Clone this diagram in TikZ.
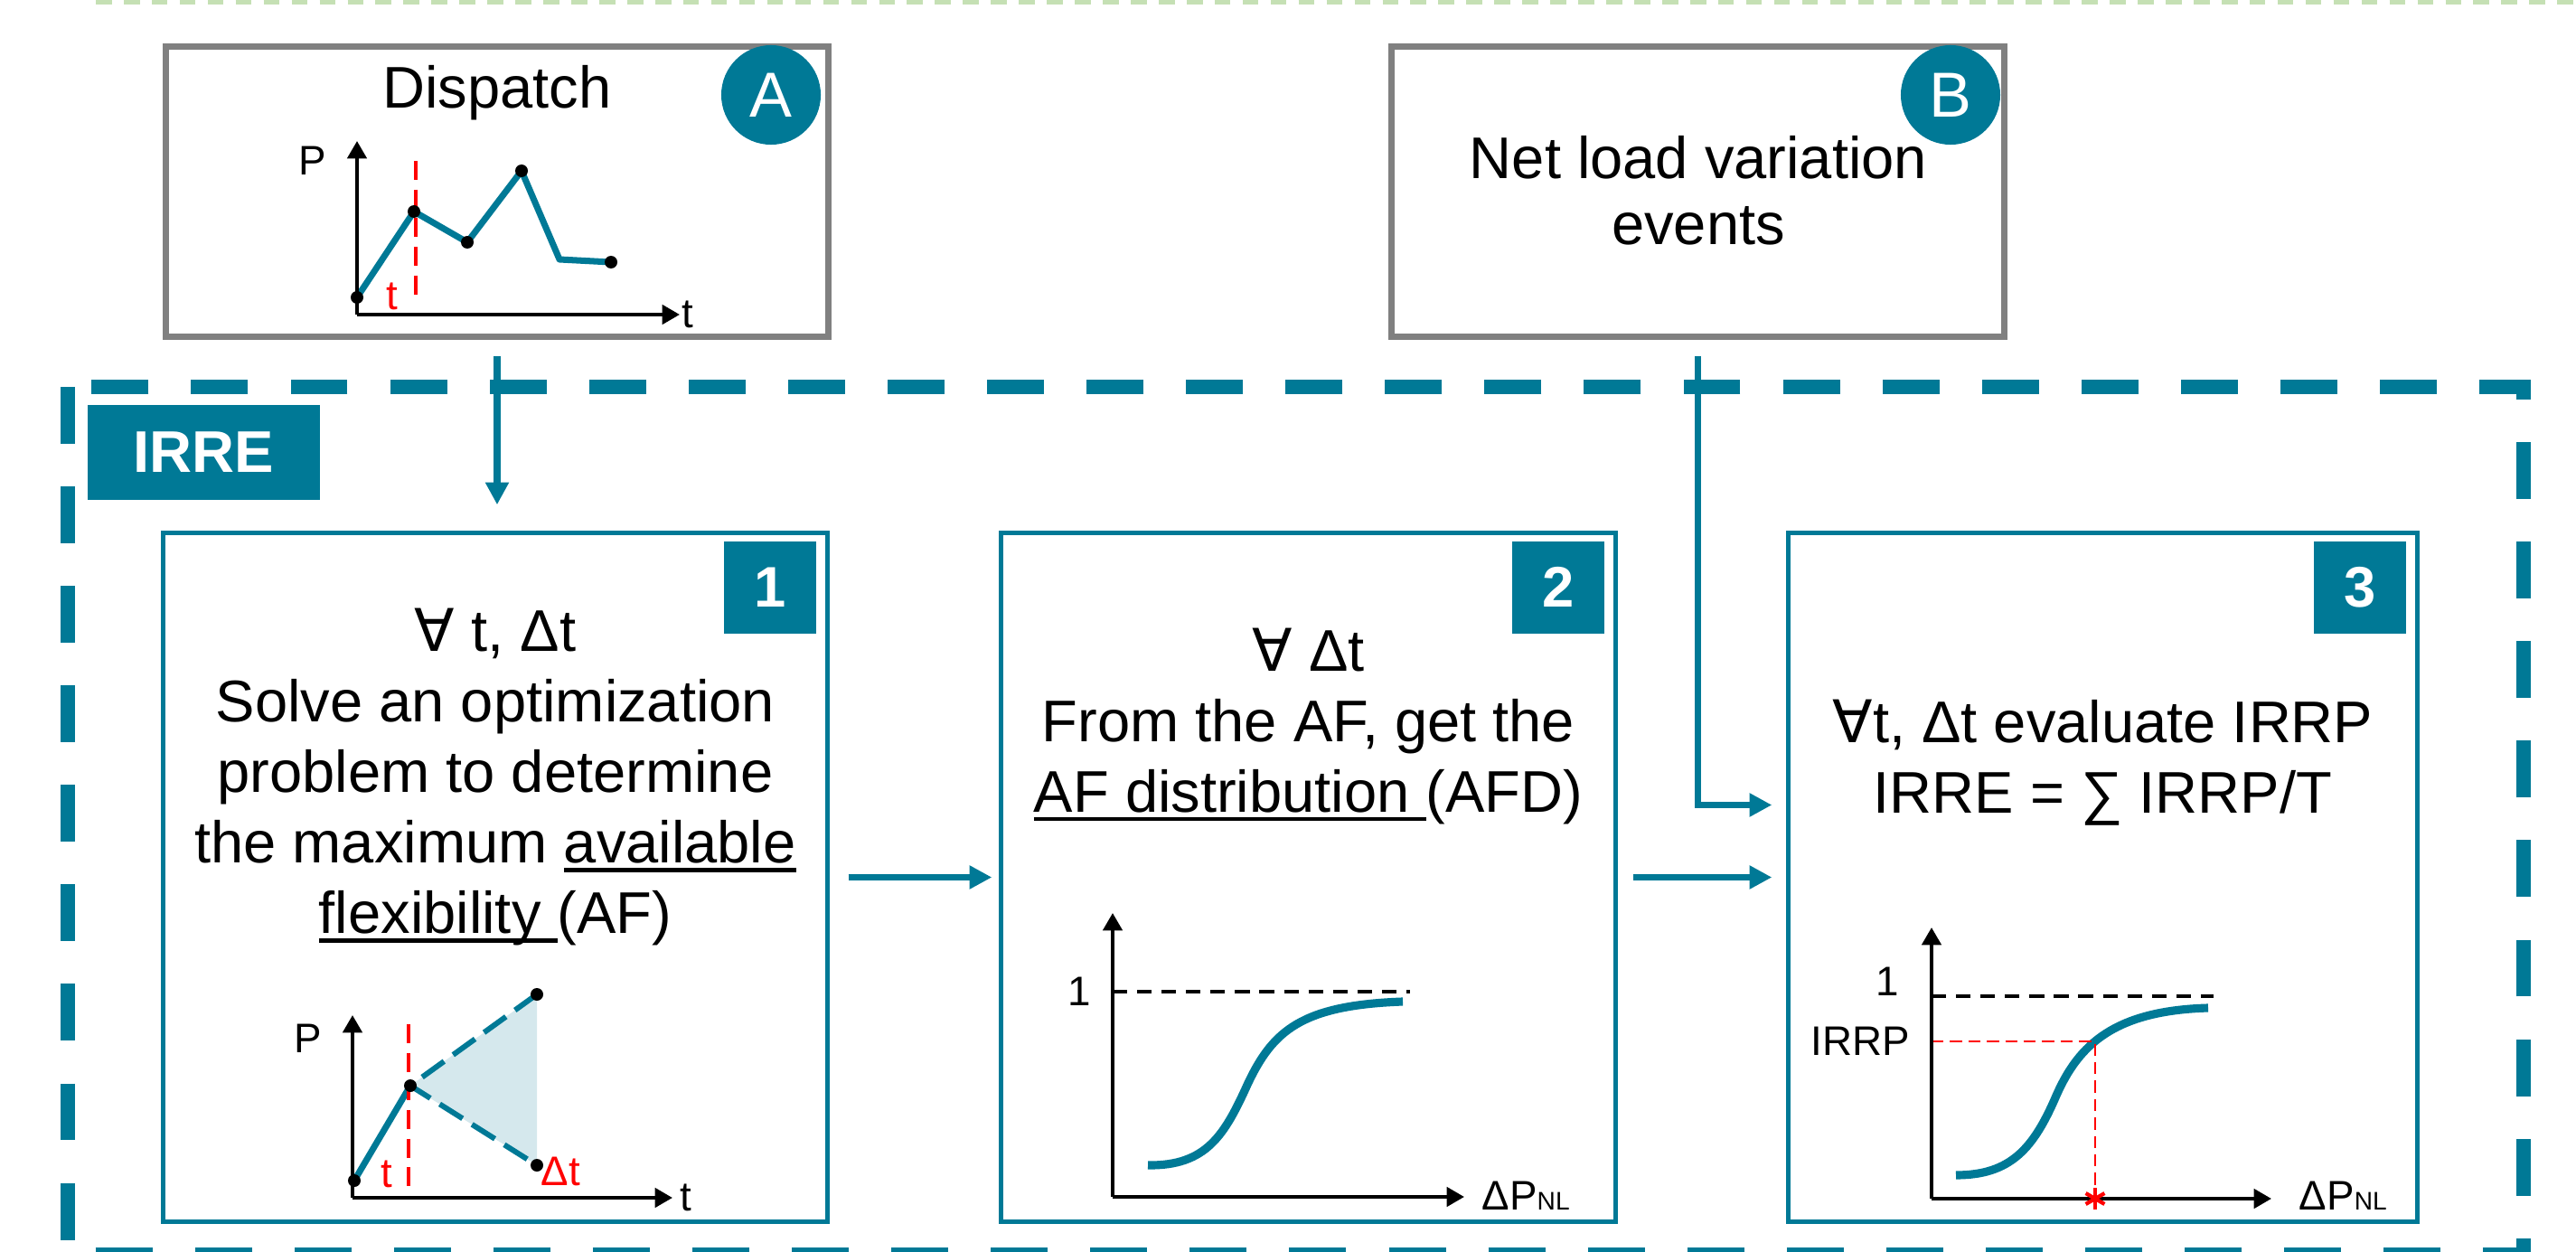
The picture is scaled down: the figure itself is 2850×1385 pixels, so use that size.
\documentclass[tikz,border=0pt]{standalone}
\usepackage{fontspec}
\setmainfont{Liberation Sans}
\newfontfamily\symfont{DejaVu Sans}
\usetikzlibrary{positioning}
\usetikzlibrary{arrows.meta, calc}

\definecolor{irreteal}{RGB}{0,121,150}
\definecolor{boxgray}{RGB}{128,128,128}
\definecolor{flexfill}{RGB}{213,232,237}
\definecolor{sheetgreen}{RGB}{197,224,180}

\newcommand{\bodyfont}{\fontsize{18.5}{22.2}\selectfont}
\newcommand{\chartfont}{\fontsize{13}{15}\selectfont}
\newcommand{\undl}[1]{\setbox0=\hbox{#1}\leavevmode\rlap{\vrule width\wd0 height -1.7pt depth 2.9pt}\box0}

\tikzstyle{inputbox} = [rectangle, draw=boxgray, line width=2pt, minimum height=3.21cm]
\tikzstyle{stagebox} = [rectangle, draw=irreteal, line width=1.4pt, minimum height=7.62cm]
\tikzstyle{badge} = [rectangle, fill=irreteal, text=white, font=\bfseries\fontsize{18}{20}\selectfont, minimum size=1.02cm, inner sep=0pt]
\tikzstyle{letter} = [circle, fill=irreteal, text=white, font=\fontsize{20}{22}\selectfont, minimum size=1.1cm, inner sep=0pt]
\tikzstyle{tag} = [rectangle, fill=irreteal, text=white, font=\bfseries\bodyfont, minimum width=2.57cm, minimum height=1.05cm, inner sep=0pt]
\tikzstyle{bodytext} = [align=center, inner sep=0pt, font=\bodyfont]
\tikzstyle{lbl} = [inner sep=0pt, font=\chartfont]
\tikzstyle{line} = [draw=irreteal, line width=2pt, -{Triangle[length=7pt,width=7pt]}]
\tikzstyle{chartaxis} = [draw, line width=1.2pt, -{Triangle[length=5.5pt,width=6pt]}]
\tikzstyle{trace} = [draw=irreteal, line width=2pt, line join=round]
\tikzstyle{sigmoid} = [draw=irreteal, line width=2.6pt]
\tikzstyle{guide} = [draw=red, line width=0.9pt, dash pattern=on 6pt off 3pt]
\tikzstyle{unitline} = [draw, line width=1pt, dash pattern=on 4.6pt off 3.1pt]
\tikzstyle{dot} = [fill=black]

\begin{document}
\begin{tikzpicture}[x=0.01cm, y=-0.01cm]
  \useasboundingbox (0,0) rectangle (2850,1385);

  % page edge and IRRE frame
  \draw [sheetgreen, line width=1.4pt, dash pattern=on 5pt off 3.8pt] (106,2.5) -- (2850,2.5);
  \draw [irreteal, line width=4.5pt, dash pattern=on 17.9pt off 13.4pt] (75,428) rectangle (2792,1388);
  \node [tag] (irre_tag) at (225.5,500.5) {IRRE};

  % inputs
  \node [inputbox, minimum width=7.33cm] (dispatch) at (550,212) {};
  \node [bodytext, anchor=base] (dispatch_title) at (550,120) {Dispatch};
  \node [letter] (tag_a) at (853,105) {A};
  \node [inputbox, minimum width=6.78cm] (net_load) at (1878.5,212) {};
  \node [bodytext, anchor=north, font=\fontsize{18.5}{20.8}\selectfont] (net_load_text) at (1879,150) {Net load variation\\events};
  \node [letter] (tag_b) at (2158,105) {B};

  % steps
  \node [stagebox, minimum width=7.35cm] (step_one) at (548,970.5) {};
  \node [stagebox, minimum width=6.8cm] (step_two) at (1447.5,970.5) {};
  \node [stagebox, minimum width=6.96cm] (step_three) at (2326.5,970.5) {};
  \node [badge, anchor=north east] (num_one) at ($(step_one.north east)+(-14,11)$) {1};
  \node [badge, anchor=north east] (num_two) at ($(step_two.north east)+(-14,11)$) {2};
  \node [badge, anchor=north east] (num_three) at ($(step_three.north east)+(-14,11)$) {3};

  \node [bodytext, anchor=north] (step_one_text) at (548,672) {{\symfont ∀} t, Δt\\Solve an optimization\\problem to determine\\the maximum \undl{available}\\\undl{flexibility }(AF)};
  \node [bodytext, anchor=north] (step_two_text) at (1447.5,694) {{\symfont ∀} Δt\\From the AF, get the\\\undl{AF distribution }(AFD)};
  \node [bodytext, anchor=north] (step_three_text) at (2326.5,773) {{\symfont ∀}t, Δt evaluate IRRP\\IRRE = ∑ IRRP/T};

  % dispatch profile
  \begin{scope}[shift={(395,348)}]
    \draw [trace] (0,-19) -- (63,-114) -- (122,-80) -- (182,-159) -- (224,-61) -- (281,-58);
    \draw [guide] (65,-170) -- (65,-14);
    \foreach \p in {(0,-19), (63,-114), (122,-80), (182,-159), (281,-58)}
      \fill [dot] \p circle (7);
    \path [chartaxis] (0,0) -- (0,-192);
    \path [chartaxis] (0,0) -- (357,0);
    \node [lbl] (disp_p) at (-49,-170) {P};
    \node [lbl] (disp_t) at (366,0) {t};
    \node [lbl, text=red] (disp_now) at (39,-20) {t};
  \end{scope}

  % available flexibility
  \begin{scope}[shift={(390,1325)}]
    \fill [flexfill] (64,-124) -- (204,-225) -- (204,-36) -- cycle;
    \draw [trace] (2,-19) -- (64,-124);
    \draw [irreteal, line width=1.7pt, dash pattern=on 8.5pt off 3.5pt] (204,-225) -- (64,-124) -- (204,-36);
    \draw [guide] (62,-192) -- (62,0);
    \foreach \p in {(2,-19), (64,-124), (204,-225), (204,-36)}
      \fill [dot] \p circle (7);
    \path [chartaxis] (0,0) -- (0,-202);
    \path [chartaxis] (0,0) -- (354,0);
    \node [lbl] (flex_p) at (-49,-176) {P};
    \node [lbl] (flex_t) at (369,0) {t};
    \node [lbl, text=red] (flex_now) at (38,-26) {t};
    \node [lbl, text=red, anchor=west] (flex_dt) at (208,-29) {Δt};
  \end{scope}

  % AF distribution
  \begin{scope}[shift={(1231,1324)}]
    \draw [unitline] (0,-227) -- (329,-227);
    \draw [sigmoid] (39,-35) .. controls (104,-34) and (124,-69) .. (149,-124)
                             .. controls (177,-184) and (209,-212) .. (321,-216);
    \path [chartaxis] (0,0) -- (0,-314);
    \path [chartaxis] (0,0) -- (389,0);
    \node [lbl] (afd_one) at (-37,-227) {1};
    \node [lbl, anchor=base west] (afd_dp) at (408,14) {ΔP{\fontsize{8}{9}\selectfont NL}};
  \end{scope}

  % IRRP evaluation
  \begin{scope}[shift={(2137,1326)}]
    \draw [unitline] (0,-224) -- (312,-224);
    \draw [sigmoid] (27,-26) .. controls (88,-26) and (113,-56) .. (138,-114)
                             .. controls (163,-171) and (203,-208) .. (306,-211);
    \draw [guide, line width=0.7pt, dash pattern=on 3.8pt off 2pt] (0,-174) -- (181,-174) -- (181,0);
    \path [chartaxis] (0,0) -- (0,-300);
    \path [chartaxis] (0,0) -- (376,0);
    \foreach \a in {90, 30, 150}
      \draw [red, line width=1.2pt] (181,0) ++(\a:12) -- ++(\a+180:24);
    \node [lbl] (irrp_one) at (-49,-240) {1};
    \node [lbl] (irrp_val) at (-79,-174) {IRRP};
    \node [lbl, anchor=base west] (irrp_dp) at (406,12) {ΔP{\fontsize{8}{9}\selectfont NL}};
  \end{scope}

  % connectors
  \path [line, shorten <=0.175cm, shorten >=0.285cm] (dispatch.south) -- (dispatch.south |- step_one.north);
  \coordinate (nl_entry) at ($(step_three.west)+(0,-80)$);
  \path [line, shorten <=0.175cm, shorten >=0.155cm] (net_load.south) |- (nl_entry);
  \path [line, shorten <=0.205cm, shorten >=0.075cm] (step_one.east) -- (step_two.west);
  \path [line, shorten <=0.165cm, shorten >=0.155cm] (step_two.east) -- (step_three.west);
\end{tikzpicture}
\end{document}
